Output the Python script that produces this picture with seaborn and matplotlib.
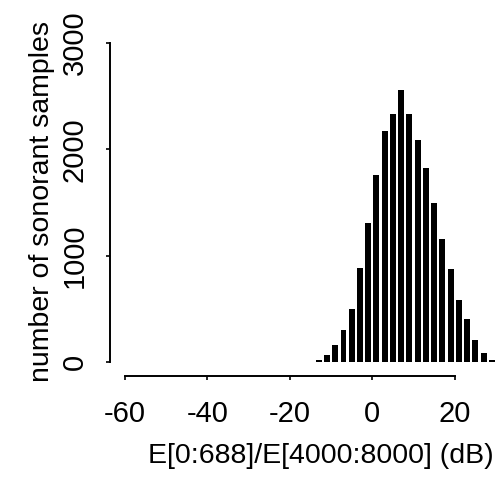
import numpy as np
import pandas as pd
import matplotlib
matplotlib.use("Agg")
import matplotlib.pyplot as plt
import seaborn as sns

# bin centres (dB) and counts
bin_centers = [-13, -11, -9, -7, -5, -3, -1, 1, 3, 5, 7, 9, 11, 13, 15, 17, 19, 21, 23, 25, 27, 29]
counts = [15, 62, 156, 302, 499, 888, 1303, 1761, 2176, 2331, 2562, 2331, 2087, 1823, 1496, 1159, 879, 583, 400, 206, 84, 15]
x_ticks = [-60, -40, -20, 0, 20]
y_ticks = [0, 1000, 2000, 3000]
x_label = "E[0:688]/E[4000:8000] (dB)"
y_label = "number of sonorant samples"

sns.set_style("ticks")
plt.rcParams['font.family'] = ['Liberation Sans', 'DejaVu Sans']
plt.rcParams['text.color'] = 'black'
plt.rcParams['axes.labelcolor'] = 'black'
plt.rcParams['xtick.color'] = 'black'
plt.rcParams['ytick.color'] = 'black'
plt.rcParams['axes.edgecolor'] = 'black'

df = pd.DataFrame({"db": bin_centers, "count": counts})

fig = plt.figure(figsize=(4.96, 4.8), dpi=100)
ax = fig.add_axes([0.2218, 0.2167, 0.7782, 0.6937])
sns.barplot(data=df, x="db", y="count", native_scale=True, width=0.72,
            color="black", edgecolor="black", linewidth=0, ax=ax, saturation=1)

ax.set_xlim(-63.64, 30)
ax.set_ylim(-132, 3000)
ax.set_xticks(x_ticks)
ax.set_yticks(y_ticks)
ax.set_xticklabels([str(v) for v in x_ticks], fontsize=21)
ax.set_yticklabels([str(v) for v in y_ticks], fontsize=21, rotation=90, va="center")

for s in ["top", "right"]:
    ax.spines[s].set_visible(False)
ax.spines["left"].set_bounds(0, 3000)
ax.spines["bottom"].set_bounds(-60, 20)
ax.spines["left"].set_linewidth(1.4)
ax.spines["bottom"].set_linewidth(1.4)
ax.tick_params(axis="x", length=3, width=1.2, pad=14)
ax.tick_params(axis="y", length=3, width=1.2, pad=12.5)

ax.set_xlabel(x_label, fontsize=20.5)
ax.set_ylabel(y_label, fontsize=20.5)
ax.xaxis.set_label_coords(0.547, -0.201)
ax.yaxis.set_label_coords(-0.1425, 0.525)

fig.savefig("out.png", dpi=100)
